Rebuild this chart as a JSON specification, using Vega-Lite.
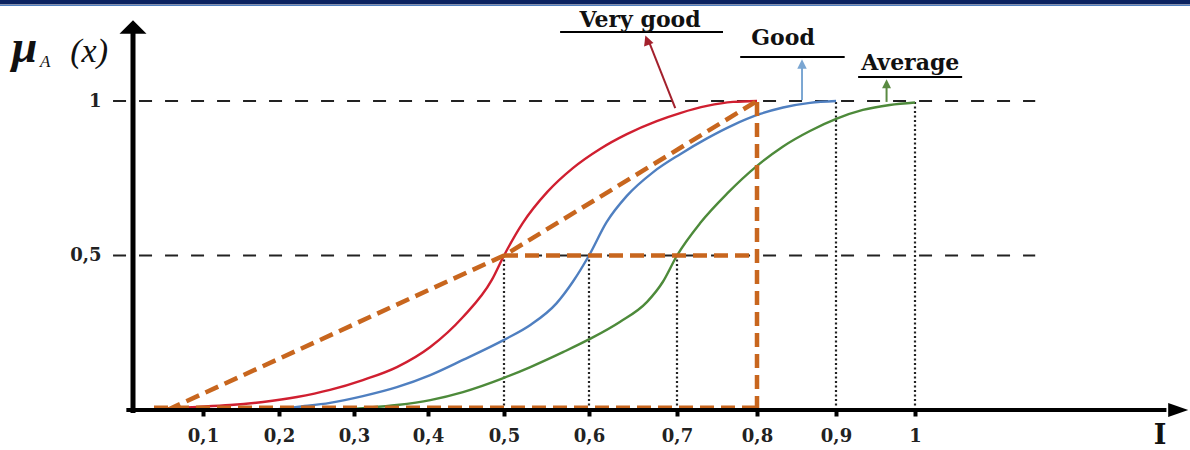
{
  "$schema": "https://vega.github.io/schema/vega-lite/v6.json",
  "width": 1190,
  "height": 450,
  "autosize": {"type": "none"},
  "padding": 0,
  "background": "white",
  "config": {"view": {"stroke": null}},
  "datasets": {
    "curves": [
      {"s": "Very good", "x": 0.02, "y": 0},
      {"s": "Very good", "x": 0.053, "y": 0.006},
      {"s": "Very good", "x": 0.091, "y": 0.01},
      {"s": "Very good", "x": 0.136, "y": 0.016},
      {"s": "Very good", "x": 0.179, "y": 0.026},
      {"s": "Very good", "x": 0.224, "y": 0.042},
      {"s": "Very good", "x": 0.268, "y": 0.065},
      {"s": "Very good", "x": 0.312, "y": 0.097},
      {"s": "Very good", "x": 0.358, "y": 0.139},
      {"s": "Very good", "x": 0.403, "y": 0.204},
      {"s": "Very good", "x": 0.446, "y": 0.301},
      {"s": "Very good", "x": 0.484, "y": 0.421},
      {"s": "Very good", "x": 0.5, "y": 0.5},
      {"s": "Very good", "x": 0.522, "y": 0.605},
      {"s": "Very good", "x": 0.551, "y": 0.706},
      {"s": "Very good", "x": 0.581, "y": 0.783},
      {"s": "Very good", "x": 0.6125, "y": 0.845},
      {"s": "Very good", "x": 0.643, "y": 0.893},
      {"s": "Very good", "x": 0.677, "y": 0.935},
      {"s": "Very good", "x": 0.704, "y": 0.961},
      {"s": "Very good", "x": 0.7375, "y": 0.984},
      {"s": "Very good", "x": 0.77, "y": 0.997},
      {"s": "Very good", "x": 0.8, "y": 1.0},
      {"s": "Good", "x": 0.19, "y": 0},
      {"s": "Good", "x": 0.224, "y": 0.01},
      {"s": "Good", "x": 0.268, "y": 0.023},
      {"s": "Good", "x": 0.312, "y": 0.045},
      {"s": "Good", "x": 0.358, "y": 0.074},
      {"s": "Good", "x": 0.403, "y": 0.113},
      {"s": "Good", "x": 0.446, "y": 0.162},
      {"s": "Good", "x": 0.5, "y": 0.227},
      {"s": "Good", "x": 0.531, "y": 0.275},
      {"s": "Good", "x": 0.562, "y": 0.346},
      {"s": "Good", "x": 0.581, "y": 0.415},
      {"s": "Good", "x": 0.6, "y": 0.5},
      {"s": "Good", "x": 0.62, "y": 0.608},
      {"s": "Good", "x": 0.643, "y": 0.693},
      {"s": "Good", "x": 0.673, "y": 0.77},
      {"s": "Good", "x": 0.704, "y": 0.828},
      {"s": "Good", "x": 0.7375, "y": 0.879},
      {"s": "Good", "x": 0.77, "y": 0.922},
      {"s": "Good", "x": 0.804, "y": 0.958},
      {"s": "Good", "x": 0.833, "y": 0.979},
      {"s": "Good", "x": 0.867, "y": 0.994},
      {"s": "Good", "x": 0.9, "y": 1.0},
      {"s": "Average", "x": 0.28, "y": 0},
      {"s": "Average", "x": 0.312, "y": 0.006},
      {"s": "Average", "x": 0.358, "y": 0.016},
      {"s": "Average", "x": 0.403, "y": 0.032},
      {"s": "Average", "x": 0.446, "y": 0.058},
      {"s": "Average", "x": 0.5, "y": 0.104},
      {"s": "Average", "x": 0.531, "y": 0.139},
      {"s": "Average", "x": 0.57, "y": 0.188},
      {"s": "Average", "x": 0.601, "y": 0.23},
      {"s": "Average", "x": 0.635, "y": 0.285},
      {"s": "Average", "x": 0.666, "y": 0.35},
      {"s": "Average", "x": 0.684, "y": 0.415},
      {"s": "Average", "x": 0.7, "y": 0.5},
      {"s": "Average", "x": 0.729, "y": 0.605},
      {"s": "Average", "x": 0.7625, "y": 0.7},
      {"s": "Average", "x": 0.8, "y": 0.79},
      {"s": "Average", "x": 0.833, "y": 0.853},
      {"s": "Average", "x": 0.867, "y": 0.903},
      {"s": "Average", "x": 0.901, "y": 0.943},
      {"s": "Average", "x": 0.934, "y": 0.971},
      {"s": "Average", "x": 0.968, "y": 0.987},
      {"s": "Average", "x": 1.0, "y": 0.995}
    ],
    "orange": [
      {"seg": "a", "o": 1, "x": 0.049, "y": 0},
      {"seg": "a", "o": 2, "x": 0.5, "y": 0.5},
      {"seg": "a", "o": 3, "x": 0.8, "y": 1},
      {"seg": "b", "o": 1, "x": 0.5, "y": 0.5},
      {"seg": "b", "o": 2, "x": 0.8, "y": 0.5},
      {"seg": "c", "o": 1, "x": 0.8, "y": 0},
      {"seg": "c", "o": 2, "x": 0.8, "y": 1},
      {"seg": "d", "o": 1, "x": 0.03, "y": 0.007},
      {"seg": "d", "o": 2, "x": 0.8, "y": 0.007}
    ],
    "hdash": [
      {"x": -0.03, "x2": 1.153, "y": 1},
      {"x": -0.03, "x2": 1.153, "y": 0.5}
    ],
    "vdot": [
      {"x": 0.5, "y": 0, "y2": 0.5},
      {"x": 0.6, "y": 0, "y2": 0.5},
      {"x": 0.7, "y": 0, "y2": 0.5},
      {"x": 0.9, "y": 0, "y2": 1},
      {"x": 1.0, "y": 0, "y2": 1}
    ],
    "names": [
      {"x": 0.658, "y": 1.262, "t": "Very good"},
      {"x": 0.833, "y": 1.204, "t": "Good"},
      {"x": 0.994, "y": 1.123, "t": "Average"}
    ],
    "underlines": [
      {"x": 0.566, "x2": 0.7575, "y": 1.223},
      {"x": 0.779, "x2": 0.911, "y": 1.142},
      {"x": 0.928, "x2": 1.06, "y": 1.078}
    ]
  },
  "encoding": {
    "x": {
      "field": "x",
      "type": "quantitative",
      "scale": {"domain": [-0.2, 0, 0.1, 0.2, 0.3, 0.4, 0.5, 0.6, 0.7, 0.8, 0.9, 1, 1.35], "range": [0, 133, 203, 279, 354, 428, 504, 589, 677, 757, 836, 915, 1190], "nice": false, "zero": false},
      "axis": {"orient": "bottom", "offset": -39, "values": [0.1, 0.2, 0.3, 0.4, 0.5, 0.6, 0.7, 0.8, 0.9, 1], "domain": false, "grid": false, "ticks": true, "tickSize": 5, "tickWidth": 4, "tickColor": "#000", "labelExpr": "datum.value == 1 ? '1' : replace(format(datum.value, '.1f'), '.', ',')", "labelFont": "DejaVu Serif", "labelFontWeight": "bold", "labelFontSize": 18, "labelColor": "#222", "labelPadding": 11, "labelFlush": false, "labelOverlap": false, "title": null}
    },
    "y": {
      "field": "y",
      "type": "quantitative",
      "scale": {"domain": [0, 1], "range": [410, 101], "nice": false, "zero": false},
      "axis": {"orient": "left", "offset": -133, "values": [0.5, 1], "domain": false, "grid": false, "ticks": false, "labelExpr": "datum.value == 1 ? '1' : replace(format(datum.value, '.1f'), '.', ',')", "labelFont": "DejaVu Serif", "labelFontWeight": "bold", "labelFontSize": 18, "labelColor": "#222", "labelPadding": 32, "labelBaseline": "middle", "title": null}
    }
  },
  "layer": [
    {
      "data": {"values": [{"x": -0.2, "x2": 1.35, "y": 1.312, "y2": 1.4}]},
      "mark": {"type": "rect", "color": "#0b2260"},
      "encoding": {"x2": {"field": "x2"}, "y2": {"field": "y2"}}
    },
    {
      "data": {"values": [{"x": -0.2, "x2": 1.35, "y": 1.309}]},
      "mark": {"type": "rule", "color": "#4f7fc0", "strokeWidth": 1.2},
      "encoding": {"x2": {"field": "x2"}}
    },
    {
      "data": {"name": "hdash"},
      "mark": {"type": "rule", "color": "#222", "strokeWidth": 2, "strokeDash": [13, 13]},
      "encoding": {"x2": {"field": "x2"}}
    },
    {
      "data": {"name": "vdot"},
      "mark": {"type": "rule", "color": "#222", "strokeWidth": 2.2, "strokeDash": [2, 2.5]},
      "encoding": {"y2": {"field": "y2"}}
    },
    {
      "data": {"name": "curves"},
      "mark": {"type": "line", "interpolate": "monotone", "strokeWidth": 2.4},
      "encoding": {
        "color": {"field": "s", "type": "nominal", "scale": {"domain": ["Very good", "Good", "Average"], "range": ["#d01f30", "#4f7fc0", "#4d8a3a"]}, "legend": null}
      }
    },
    {
      "data": {"name": "orange"},
      "mark": {"type": "line", "color": "#c8661e", "strokeWidth": 4.5, "strokeDash": [14, 7]},
      "encoding": {"detail": {"field": "seg"}, "order": {"field": "o"}}
    },
    {
      "data": {"values": [{"x": 0, "y": -0.01, "y2": 1.24}]},
      "mark": {"type": "rule", "color": "#000", "strokeWidth": 5},
      "encoding": {"y2": {"field": "y2"}}
    },
    {
      "data": {"values": [{"x": -0.01, "x2": 1.32, "y": 0}]},
      "mark": {"type": "rule", "color": "#000", "strokeWidth": 4},
      "encoding": {"x2": {"field": "x2"}}
    },
    {
      "data": {"values": [{"x": 0, "y": 1.2395}]},
      "mark": {"type": "point", "shape": "M-1,0.5L0,-0.5L1,0.5Z", "filled": true, "size": 729, "color": "#000", "opacity": 1, "strokeWidth": 0}
    },
    {
      "data": {"values": [{"x": 1.335, "y": 0}]},
      "mark": {"type": "point", "shape": "M-1,-0.7L1,0L-1,0.7Z", "filled": true, "size": 400, "color": "#000", "opacity": 1, "strokeWidth": 0}
    },
    {
      "data": {"name": "underlines"},
      "mark": {"type": "rule", "color": "#000", "strokeWidth": 2},
      "encoding": {"x2": {"field": "x2"}}
    },
    {
      "data": {"values": [{"x": 0.698, "y": 0.977, "x2": 0.667, "y2": 1.2}]},
      "mark": {"type": "rule", "color": "#a3202c", "strokeWidth": 2},
      "encoding": {"x2": {"field": "x2"}, "y2": {"field": "y2"}}
    },
    {
      "data": {"values": [{"x": 0.666, "y": 1.197}]},
      "mark": {"type": "point", "shape": "M-1,1L0,-1L1,1Z", "filled": true, "size": 100, "color": "#a3202c", "opacity": 1, "strokeWidth": 0, "angle": 340}
    },
    {
      "data": {"values": [{"x": 0.857, "y": 1.003, "y2": 1.125}]},
      "mark": {"type": "rule", "color": "#7aa6d2", "strokeWidth": 2},
      "encoding": {"y2": {"field": "y2"}}
    },
    {
      "data": {"values": [{"x": 0.857, "y": 1.12}]},
      "mark": {"type": "point", "shape": "M-1,1L0,-1L1,1Z", "filled": true, "size": 90, "color": "#7aa6d2", "opacity": 1, "strokeWidth": 0}
    },
    {
      "data": {"values": [{"x": 0.964, "y": 0.997, "y2": 1.06}]},
      "mark": {"type": "rule", "color": "#5a8a42", "strokeWidth": 2},
      "encoding": {"y2": {"field": "y2"}}
    },
    {
      "data": {"values": [{"x": 0.964, "y": 1.056}]},
      "mark": {"type": "point", "shape": "M-1,1L0,-1L1,1Z", "filled": true, "size": 80, "color": "#5a8a42", "opacity": 1, "strokeWidth": 0}
    },
    {
      "data": {"name": "names"},
      "mark": {"type": "text", "font": "DejaVu Serif", "fontWeight": "bold", "fontSize": 22, "color": "#111", "baseline": "middle", "align": "center"},
      "encoding": {"text": {"field": "t"}}
    },
    {
      "data": {"values": [{"x": 1.312, "y": -0.085, "t": "I"}]},
      "mark": {"type": "text", "font": "DejaVu Serif", "fontWeight": "bold", "fontSize": 27, "color": "#111", "baseline": "middle", "align": "center"},
      "encoding": {"text": {"field": "t"}}
    },
    {
      "data": {"values": [{"x": -0.163, "y": 1.126, "t": "μ"}]},
      "mark": {"type": "text", "font": "Liberation Serif", "fontStyle": "italic", "fontWeight": "bold", "fontSize": 46, "color": "#111", "baseline": "alphabetic", "align": "center"},
      "encoding": {"text": {"field": "t"}}
    },
    {
      "data": {"values": [{"x": -0.132, "y": 1.11, "t": "A"}]},
      "mark": {"type": "text", "font": "Liberation Serif", "fontStyle": "italic", "fontSize": 17, "color": "#111", "baseline": "alphabetic", "align": "center"},
      "encoding": {"text": {"field": "t"}}
    },
    {
      "data": {"values": [{"x": -0.066, "y": 1.126, "t": "(x)"}]},
      "mark": {"type": "text", "font": "Liberation Serif", "fontStyle": "italic", "fontSize": 34, "color": "#111", "baseline": "alphabetic", "align": "center"},
      "encoding": {"text": {"field": "t"}}
    }
  ]
}
